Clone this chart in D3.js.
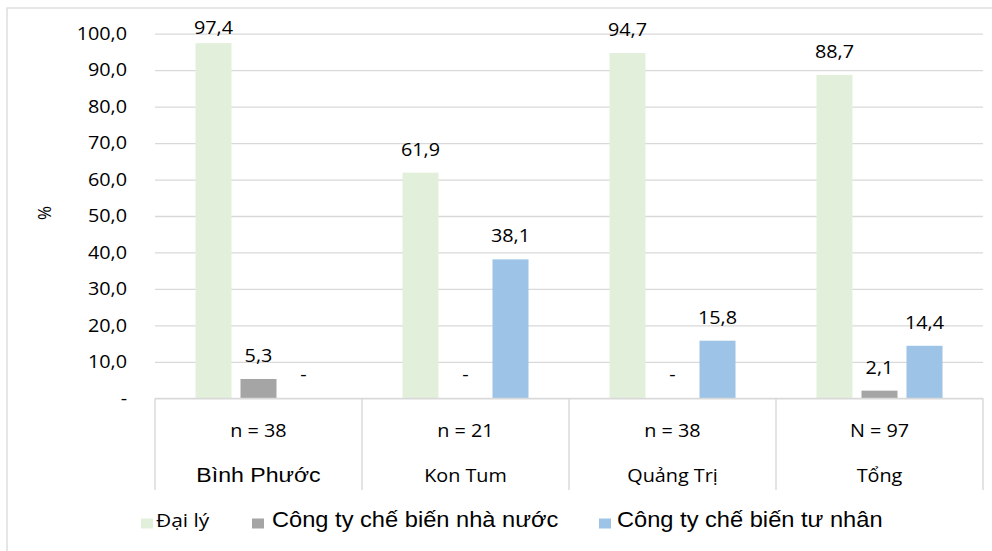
<!DOCTYPE html>
<html><head><meta charset="utf-8">
<script src="https://cdn.jsdelivr.net/npm/d3@7"></script>
<style>body{margin:0;background:#fff}svg{display:block}</style>
</head><body><svg id="c"></svg>
<script>
const categories = ["Bình Phước", "Kon Tum", "Quảng Trị", "Tổng"];
const sampleSizes = ["n = 38", "n = 21", "n = 38", "N = 97"];
const seriesNames = ["Đại lý", "Công ty chế biến nhà nước", "Công ty chế biến tư nhân"];
const daiLy = [97.4, 61.9, 94.7, 88.7];
const congTyNhaNuoc = [5.3, 0, 0, 2.1];
const congTyTuNhan = [0, 38.1, 15.8, 14.4];
const yTicks = [0, 10, 20, 30, 40, 50, 60, 70, 80, 90, 100];
const colors = ["#e2efda", "#a5a5a5", "#9dc3e6"];
const yLabel = "%";

const W = 992, H = 551, SX = 1.1, LW = W / SX;
const X = v => v / SX;
const calibri = "'Open Sans', 'Noto Sans', sans-serif";
const arial = "'Liberation Sans', Arial, sans-serif";

const svg = d3.select("#c").attr("width", W).attr("height", H)
  .attr("viewBox", `0 0 ${LW} ${H}`).attr("preserveAspectRatio", "none");

// outer chart border
svg.append("rect").attr("x", X(7)).attr("y", 8).attr("width", X(1000)).attr("height", 600)
  .attr("fill", "#fff").attr("stroke", "#d9d9d9").attr("stroke-width", 1.2);

const plotL = X(155), plotR = X(983);
const x0 = d3.scaleBand().domain(categories).range([plotL, plotR]).padding(0);
const x1 = d3.scaleBand().domain(seriesNames).range([X(40.5), X(166.5)]).paddingInner(0.2).paddingOuter(0);
const y = d3.scaleLinear().domain([0, 100]).range([398.3, 33.7]);

const fmt = d => d === 0 ? "-" : d3.format(".1f")(d).replace(".", ",");

// y axis with gridlines
const yAxis = svg.append("g").attr("transform", `translate(${plotL},0)`)
  .call(d3.axisLeft(y).tickValues(yTicks).tickSize(-(plotR - plotL)).tickPadding(X(28)).tickFormat(fmt));
yAxis.select(".domain").remove();
yAxis.selectAll(".tick line").attr("stroke", "#d9d9d9").attr("stroke-width", 1.3);
yAxis.selectAll(".tick text").attr("font-family", calibri).attr("font-size", 18).attr("fill", "#000");

// y label
svg.append("text").attr("transform", `translate(${X(51)},213) rotate(-90)`)
  .attr("text-anchor", "middle").attr("font-family", calibri).attr("font-size", 17).text(yLabel);

// bars
const seriesValues = [daiLy, congTyNhaNuoc, congTyTuNhan];
const rows = [];
categories.forEach((c, i) => seriesNames.forEach((s, j) => rows.push({c, s, j, v: seriesValues[j][i]})));

const g = svg.append("g");
g.selectAll("rect.bar").data(rows).join("rect").attr("class", "bar")
  .attr("x", d => x0(d.c) + x1(d.s)).attr("width", x1.bandwidth())
  .attr("y", d => y(d.v)).attr("height", d => y(0) - y(d.v))
  .attr("fill", d => colors[d.j]);

g.selectAll("text.lbl").data(rows).join("text").attr("class", "lbl")
  .attr("x", d => x0(d.c) + x1(d.s) + x1.bandwidth() / 2)
  .attr("y", d => Math.max(y(d.v) - 17, 34.5))
  .attr("text-anchor", "middle").attr("font-family", calibri).attr("font-size", 18).attr("fill", "#000")
  .text(d => fmt(d.v));

// category axis frame
const cat = svg.append("g");
cat.append("line").attr("x1", plotL).attr("x2", plotR).attr("y1", y(0)).attr("y2", y(0))
  .attr("stroke", "#d9d9d9").attr("stroke-width", 1.3);
const bounds = categories.map(c => x0(c)).concat([plotR]);
cat.selectAll("line.sep").data(bounds).join("line").attr("class", "sep")
  .attr("x1", d => d).attr("x2", d => d).attr("y1", y(0)).attr("y2", 490)
  .attr("stroke", "#d9d9d9").attr("stroke-width", 1.3);
cat.selectAll("text.n").data(categories).join("text").attr("class", "n")
  .attr("x", c => x0(c) + x0.bandwidth() / 2).attr("y", 437.5)
  .attr("text-anchor", "middle").attr("font-family", calibri).attr("font-size", 18)
  .text((c, i) => sampleSizes[i]);
cat.selectAll("text.cat").data(categories).join("text").attr("class", "cat")
  .attr("x", c => x0(c) + x0.bandwidth() / 2).attr("y", 482)
  .attr("text-anchor", "middle")
  .attr("font-family", (c, i) => i === 0 ? arial : calibri)
  .attr("font-size", (c, i) => i === 0 ? 21 : 18)
  .text(c => c);

// legend
const legendPos = [{sq: 141, tx: 156}, {sq: 252, tx: 272}, {sq: 599, tx: 617}];
const lg = svg.append("g");
seriesNames.forEach((s, j) => {
  lg.append("rect").attr("x", X(legendPos[j].sq)).attr("y", 518.5).attr("width", X(12)).attr("height", 10)
    .attr("fill", colors[j]);
  lg.append("text").attr("x", X(legendPos[j].tx)).attr("y", 527.5)
    .attr("font-family", j === 0 ? calibri : arial).attr("font-size", j === 0 ? 19 : 21.5)
    .attr("fill", "#000").text(s);
});
</script></body></html>
